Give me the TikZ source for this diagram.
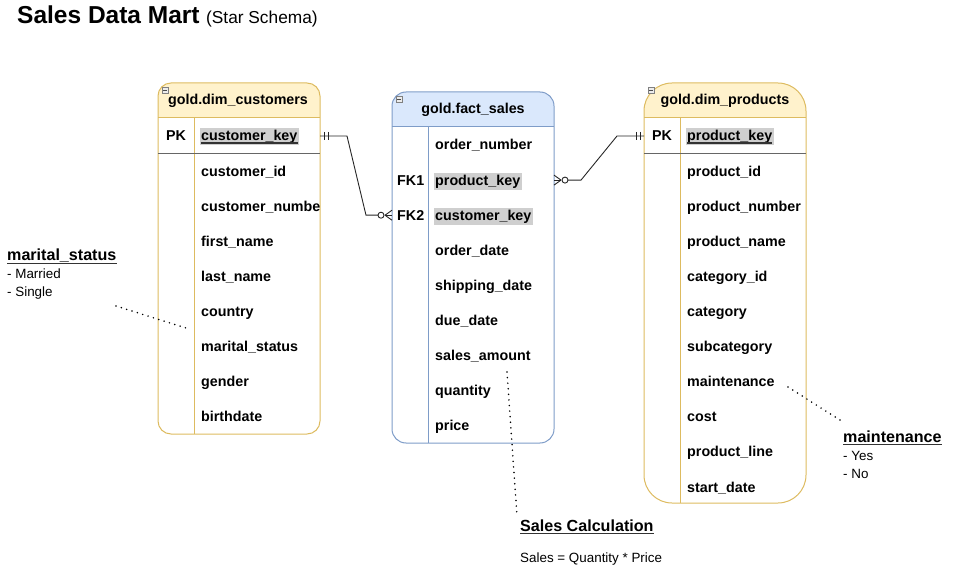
\documentclass[tikz,border=0pt]{standalone}
\usepackage{fontspec}
\setmainfont{Liberation Sans}
\usetikzlibrary{calc}
\definecolor{yfill}{HTML}{FFF2CC}
\definecolor{ystroke}{HTML}{DDBB60}
\definecolor{bfill}{HTML}{DAE8FC}
\definecolor{bstroke}{HTML}{7E9CC8}
\definecolor{keygray}{HTML}{CFCFCF}
\begin{document}
\begin{tikzpicture}[x=1pt,y=-1pt,
  fld/.style={anchor=base west, font=\bfseries\fontsize{14.3}{16}\selectfont, text height=11pt, text depth=3pt, inner xsep=1.5pt, inner ysep=1.5pt},
  keyf/.style={fld, fill=keygray},
  ttl/.style={font=\bfseries\fontsize{14.3}{16}\selectfont, anchor=base, inner sep=0pt},
  tbl/.style={line width=1pt, anchor=north west, inner sep=0pt, outer sep=0pt},
  conn/.style={draw=black!85, line width=0.9pt},
  dots/.style={line width=1.7pt, dash pattern=on 0pt off 5.6pt, line cap=round},
  note/.style={anchor=base west, inner sep=0pt, font=\bfseries\fontsize{16.1}{19}\selectfont},
  sub/.style={anchor=base west, inner sep=0pt, font=\fontsize{13.4}{15}\selectfont},
  ulline/.style={line width=1.3pt, black!80},
  icon/.style={draw=gray, fill=gray!15, line width=0.6pt}]
\useasboundingbox (0,0) rectangle (954,567);

% Title
\node[anchor=base west, inner sep=0pt] (title) at (17,24) {{\fontsize{24.5}{28}\selectfont\bfseries Sales Data Mart}\hspace{6.5pt}{\fontsize{17.3}{20}\selectfont (Star Schema)}};

% ---------------- Customers
\begin{scope}
\clip[rounded corners=13pt] (158,83) rectangle (320,434);
\fill[yfill] (158,83) rectangle (320,118);
\end{scope}
\node[tbl, draw=ystroke, rounded corners=13pt, minimum width=162pt, minimum height=351pt] (cust) at (158,83) {};
\draw[ystroke, line width=1pt] (158,118) -- (320,118);
\draw[ystroke, line width=1pt] (194,118) -- (194,434);
\draw[gray!80!black, line width=1pt] (158,154) -- (320,154);
\draw[icon] (162,87) rectangle (168,93);
\draw[black!70, line width=0.7pt] (163.3,90) -- (166.7,90);
\node[ttl] (custT) at (238,105) {gold.dim\_customers};
\node[fld, anchor=base] (cPKl) at (176,141) {PK};
\node[keyf] (cPK) at (199.5,141) {customer\_key};
\draw[ulline] ($(cPK.base west)+(1.5,2)$) -- ($(cPK.base east)+(-1.5,2)$);
\foreach \t [count=\i] in {customer\_id, customer\_numbe, first\_name, last\_name, country, marital\_status, gender, birthdate}
  \node[fld] (c\i) at (199.5,141+35.1*\i) {\t};

% ---------------- Fact
\begin{scope}
\clip[rounded corners=14pt] (392,92) rectangle (554,443);
\fill[bfill] (392,92) rectangle (554,127);
\end{scope}
\node[tbl, draw=bstroke, rounded corners=14pt, minimum width=162pt, minimum height=351pt] (fact) at (392,92) {};
\draw[bstroke, line width=1pt] (392,127) -- (554,127);
\draw[bstroke, line width=1pt] (428,127) -- (428,443);
\draw[icon] (396,96) rectangle (402,102);
\draw[black!70, line width=0.7pt] (397.3,99) -- (400.7,99);
\node[ttl] (factT) at (473,114) {gold.fact\_sales};
\node[fld] (f0) at (433.5,150) {order\_number};
\node[fld, anchor=base west] (fk1) at (395.5,185.1) {FK1};
\node[keyf] (f1) at (433.5,185.1) {product\_key};
\node[fld, anchor=base west] (fk2) at (395.5,220.2) {FK2};
\node[keyf] (f2) at (433.5,220.2) {customer\_key};
\foreach \t [count=\i from 3] in {order\_date, shipping\_date, due\_date, sales\_amount, quantity, price}
  \node[fld] (f\i) at (433.5,150+35.1*\i) {\t};

% ---------------- Products
\begin{scope}
\clip[rounded corners=28pt] (644,83) rectangle (806,503);
\fill[yfill] (644,83) rectangle (806,118);
\end{scope}
\node[tbl, draw=ystroke, rounded corners=28pt, minimum width=162pt, minimum height=420pt] (prod) at (644,83) {};
\draw[ystroke, line width=1pt] (644,118) -- (806,118);
\draw[ystroke, line width=1pt] (680,118) -- (680,503);
\draw[gray!80!black, line width=1pt] (644,154) -- (806,154);
\draw[icon] (648,87) rectangle (654,93);
\draw[black!70, line width=0.7pt] (649.3,90) -- (652.7,90);
\node[ttl] (prodT) at (725,105) {gold.dim\_products};
\node[fld, anchor=base] (pPKl) at (662,141) {PK};
\node[keyf] (pPK) at (685.5,141) {product\_key};
\draw[ulline] ($(pPK.base west)+(1.5,2)$) -- ($(pPK.base east)+(-1.5,2)$);
\foreach \t [count=\i] in {product\_id, product\_number, product\_name, category\_id, category, subcategory, maintenance, cost, product\_line, start\_date}
  \node[fld] (p\i) at (685.5,141+35.1*\i) {\t};

% ---------------- Connectors
\coordinate (cEnd) at (cust.east |- 0,136);
\coordinate (fIn) at (fact.west |- 0,215.2);
\coordinate (fOut) at (fact.east |- 0,180.1);
\coordinate (pEnd) at (prod.west |- 0,136);

\draw[conn] (cEnd) -- ++(27,0) -- ($(fIn)+(-26,0)$) -- ($(fIn)+(-14,0)$);
\draw[conn] (fOut) ++(14,0) -- ++(13,0) -- ($(pEnd)+(-27,0)$) -- (pEnd);
% mandatory one marks
\draw[conn] ($(cEnd)+(4,-4)$) -- ($(cEnd)+(4,4)$);
\draw[conn] ($(cEnd)+(8,-4)$) -- ($(cEnd)+(8,4)$);
\draw[conn] ($(pEnd)+(-8,-4)$) -- ($(pEnd)+(-8,4)$);
\draw[conn] ($(pEnd)+(-4,-4)$) -- ($(pEnd)+(-4,4)$);
% zero-or-many marks
\draw[conn, fill=white] ($(fIn)+(-11,0)$) circle (3pt);
\draw[conn] ($(fIn)+(-7,0)$) -- (fIn);
\draw[conn] ($(fIn)+(-7,0)$) -- ($(fIn)+(0,-5)$);
\draw[conn] ($(fIn)+(-7,0)$) -- ($(fIn)+(0,5)$);
\draw[conn, fill=white] ($(fOut)+(11,0)$) circle (3pt);
\draw[conn] ($(fOut)+(7,0)$) -- (fOut);
\draw[conn] ($(fOut)+(7,0)$) -- ($(fOut)+(0,-5)$);
\draw[conn] ($(fOut)+(7,0)$) -- ($(fOut)+(0,5)$);

% ---------------- Notes
\node[note] (msN) at (7,261) {marital\_status};
\draw[ulline] ($(msN.base west)+(0,2.5)$) -- ($(msN.base east)+(0,2.5)$);
\node[sub] (ms1) at (7,278.5) {- Married};
\node[sub] (ms2) at (7,296.5) {- Single};
\coordinate (msA) at (116,306);
\coordinate (msB) at (186,328);
\draw[dots] (msA) -- (msB);

\node[note] (mtN) at (843,442) {maintenance};
\draw[ulline] ($(mtN.base west)+(0,2.5)$) -- ($(mtN.base east)+(0,2.5)$);
\node[sub] (mt1) at (843,460.5) {- Yes};
\node[sub] (mt2) at (843,478.5) {- No};
\coordinate (mtA) at (788,387);
\coordinate (mtB) at (843,422);
\draw[dots] (mtA) -- (mtB);

\node[note] (scN) at (520,531) {Sales Calculation};
\draw[ulline] ($(scN.base west)+(0,2.5)$) -- ($(scN.base east)+(0,2.5)$);
\node[sub] (sc1) at (520,562.5) {Sales = Quantity * Price};
\coordinate (scA) at (507,372);
\coordinate (scB) at (517,516);
\draw[dots] (scA) -- (scB);
\end{tikzpicture}
\end{document}
